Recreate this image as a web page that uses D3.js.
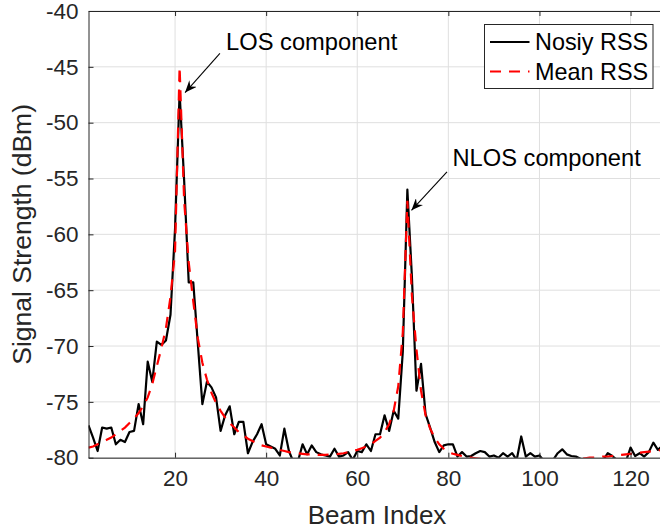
<!DOCTYPE html>
<html>
<head>
<meta charset="utf-8">
<script src="https://cdn.jsdelivr.net/npm/d3@7"></script>
<style>
  html, body { margin: 0; padding: 0; background: #fff; }
  svg { display: block; font-family: "Liberation Sans", Arial, Helvetica, sans-serif; }
</style>
</head>
<body>
<div id="chart"></div>
<script>
// Beam index 1..128
const beamIndex = d3.range(1, 129);

// Noisy received signal strength per beam (dBm)
const noisyRss = [
  -77.1, -78.2, -79.4, -77.3, -77.4, -77.3, -78.8, -78.4, -78.6, -77.7,
  -77.6, -75.2, -77.0, -71.4, -73.2, -69.6, -69.9, -69.5, -67.2, -59.5,
  -47.3, -55.2, -64.3, -64.3, -69.8, -75.2, -73.2, -73.7, -74.6, -77.6,
  -76.2, -75.4, -77.9, -76.8, -76.8, -79.6, -78.6, -77.9, -77.0, -78.8,
  -79.0, -79.2, -79.8, -77.4, -79.4, -80.4, -80.3, -78.8, -79.7, -78.9,
  -79.5, -79.7, -79.8, -79.9, -79.2, -79.9, -79.8, -79.5, -80.2, -79.4,
  -79.5, -78.8, -79.4, -77.9, -77.9, -76.2, -77.6, -75.8, -76.5, -70.5,
  -56.0, -63.8, -74.0, -71.6, -76.1, -77.3, -78.6, -79.5, -78.9, -78.8,
  -78.8, -79.9, -79.5, -79.9, -79.85, -79.6, -79.4, -79.5, -79.9, -79.8,
  -80.0, -79.6, -79.9, -79.6, -80.2, -78.1, -79.9, -79.6, -79.9, -79.8,
  -80.3, -80.5, -80.2, -79.6, -79.25, -79.7, -79.85, -79.9, -80.1, -80.2,
  -80.5, -80.3, -80.5, -80.2, -79.6, -79.85, -80.2, -80.5, -80.3, -79.1,
  -79.85, -79.6, -79.9, -79.5, -78.65, -79.3, -78.95, -79.2
];

// Mean received signal strength per beam (dBm)
const meanRss = [
  -79.1, -79.0, -78.8, -78.6, -78.4, -78.2, -77.9, -77.6, -77.3, -76.9,
  -76.5, -76.0, -75.4, -74.6, -73.4, -71.8, -70.2, -68.4, -65.6, -61.5,
  -45.0, -57.0, -62.5, -66.0, -69.3, -71.5, -73.0, -74.2, -75.1, -75.8,
  -76.4, -76.9, -77.3, -77.7, -78.0, -78.3, -78.5, -78.7, -78.9, -79.0,
  -79.1, -79.2, -79.3, -79.4, -79.5, -79.55, -79.6, -79.65, -79.7, -79.7,
  -79.75, -79.75, -79.75, -79.7, -79.7, -79.65, -79.6, -79.5, -79.4, -79.3,
  -79.15, -79.0, -78.8, -78.5, -78.2, -77.7, -77.0, -75.8, -73.6, -68.8,
  -57.0, -65.5, -70.3, -74.0, -76.2, -77.4, -78.2, -78.8, -79.2, -79.5,
  -79.65, -79.75, -79.85, -79.9, -80.0, -80.05, -80.1, -80.15, -80.2, -80.25,
  -80.3, -80.3, -80.3, -80.3, -80.3, -80.3, -80.3, -80.3, -80.3, -80.3,
  -80.3, -80.3, -80.3, -80.3, -80.3, -80.25, -80.2, -80.15, -80.1, -80.05,
  -80.0, -80.0, -79.95, -79.9, -79.9, -79.85, -79.8, -79.75, -79.7, -79.65,
  -79.6, -79.55, -79.5, -79.45, -79.4, -79.35, -79.3, -79.25
];

const xTicks = [20, 40, 60, 80, 100, 120];
const yTicks = [-80, -75, -70, -65, -60, -55, -50, -45, -40];
const legendLabels = ["Nosiy RSS", "Mean RSS"];

// Annotations: [text position, arrow tail, arrow tip] in data units
const annotations = [
  { label: "LOS component",  text: [31.2, -43.5], from: [29.85, -43.8], to: [22.2, -47.3] },
  { label: "NLOS component", text: [80.9, -53.9], from: [79.7, -54.4], to: [71.9, -57.85] }
];

const width = 660, height = 531;
const margin = { top: 11, right: -7, bottom: 73.3, left: 88.5 };
const innerW = width - margin.left - margin.right;
const innerH = height - margin.top - margin.bottom;

const axisColor = "#262626";
const gridColor = "#dfdfdf";

const svg = d3.select("#chart")
    .append("svg")
    .attr("width", width)
    .attr("height", height);

const defs = svg.append("defs");
defs.append("clipPath")
    .attr("id", "plot-clip")
    .append("rect")
    .attr("width", innerW)
    .attr("height", innerH);

const g = svg.append("g")
    .attr("transform", `translate(${margin.left},${margin.top})`);

const xScale = d3.scaleLinear().domain([1, 128]).range([0, innerW]);
const yScale = d3.scaleLinear().domain([-80, -40]).range([innerH, 0]);

// Grid
g.append("g")
    .selectAll("line")
    .data(xTicks)
    .join("line")
    .attr("x1", d => xScale(d)).attr("x2", d => xScale(d))
    .attr("y1", 0).attr("y2", innerH)
    .attr("stroke", gridColor).attr("stroke-width", 1);

g.append("g")
    .selectAll("line")
    .data(yTicks)
    .join("line")
    .attr("x1", 0).attr("x2", innerW)
    .attr("y1", d => yScale(d)).attr("y2", d => yScale(d))
    .attr("stroke", gridColor).attr("stroke-width", 1);

// Lines
const lineGen = d3.line()
    .x((d, i) => xScale(beamIndex[i]))
    .y(d => yScale(d));

const plot = g.append("g").attr("clip-path", "url(#plot-clip)");

plot.append("path")
    .datum(noisyRss)
    .attr("fill", "none")
    .attr("stroke", "#000")
    .attr("stroke-width", 2.2)
    .attr("stroke-linejoin", "round")
    .attr("d", lineGen);

plot.append("path")
    .datum(meanRss)
    .attr("fill", "none")
    .attr("stroke", "#ff0000")
    .attr("stroke-width", 2.2)
    .attr("stroke-dasharray", "11,8")
    .attr("d", lineGen);

// Axes (MATLAB style: ticks inward, box)
const plainFormat = d => String(d);

const xAxis = g.append("g")
    .attr("transform", `translate(0,${innerH})`)
    .call(d3.axisBottom(xScale).tickValues(xTicks).tickSizeInner(-5).tickSizeOuter(0)
        .tickPadding(12).tickFormat(plainFormat));

const xAxisTop = g.append("g")
    .call(d3.axisTop(xScale).tickValues(xTicks).tickSizeInner(-5).tickSizeOuter(0).tickFormat(""));

const yAxis = g.append("g")
    .call(d3.axisLeft(yScale).tickValues(yTicks).tickSizeInner(-5).tickSizeOuter(0)
        .tickPadding(10).tickFormat(plainFormat));

[xAxis, xAxisTop, yAxis].forEach(a => {
    a.select(".domain").attr("stroke", axisColor).attr("stroke-width", 1);
    a.selectAll(".tick line").attr("stroke", axisColor);
    a.selectAll(".tick text")
        .attr("fill", axisColor)
        .style("font-size", "22.5px")
        .style("font-family", "'Liberation Sans', Arial, sans-serif");
});

// Axis labels
svg.append("text")
    .attr("x", 377)
    .attr("y", 524)
    .attr("text-anchor", "middle")
    .attr("fill", axisColor)
    .style("font-size", "26px")
    .text("Beam Index");

svg.append("text")
    .attr("transform", `translate(31,${margin.top + innerH / 2}) rotate(-90)`)
    .attr("text-anchor", "middle")
    .attr("fill", axisColor)
    .style("font-size", "26.5px")
    .text("Signal Strength (dBm)");

// Annotations
defs.append("marker")
    .attr("id", "arrowhead")
    .attr("viewBox", "0 0 12 10")
    .attr("refX", 12).attr("refY", 5)
    .attr("markerWidth", 12).attr("markerHeight", 10)
    .attr("markerUnits", "userSpaceOnUse")
    .attr("orient", "auto")
    .append("path")
    .attr("d", "M0,0 L12,5 L0,10 L4,5 Z")
    .attr("fill", "#000");

annotations.forEach(a => {
    g.append("line")
        .attr("x1", xScale(a.from[0])).attr("y1", yScale(a.from[1]))
        .attr("x2", xScale(a.to[0])).attr("y2", yScale(a.to[1]))
        .attr("stroke", "#000").attr("stroke-width", 1.1)
        .attr("marker-end", "url(#arrowhead)");
    g.append("text")
        .attr("x", xScale(a.text[0]))
        .attr("y", yScale(a.text[1]))
        .attr("fill", "#000")
        .style("font-size", "23.7px")
        .text(a.label);
});

// Legend
const legend = svg.append("g").attr("transform", "translate(484.5,24.5)");
legend.append("rect")
    .attr("width", 168.5).attr("height", 64)
    .attr("fill", "#fff")
    .attr("stroke", axisColor).attr("stroke-width", 1);

const legendStyles = [
    { stroke: "#000", dash: null },
    { stroke: "#ff0000", dash: "11,8" }
];

legendLabels.forEach((label, i) => {
    const rowY = 17.5 + i * 29.5;
    legend.append("line")
        .attr("x1", 5.5).attr("x2", 45)
        .attr("y1", rowY).attr("y2", rowY)
        .attr("stroke", legendStyles[i].stroke)
        .attr("stroke-width", 2.2)
        .attr("stroke-dasharray", legendStyles[i].dash);
    legend.append("text")
        .attr("x", 50.5)
        .attr("y", rowY)
        .attr("dy", "0.36em")
        .attr("fill", "#000")
        .style("font-size", "23.4px")
        .text(label);
});
</script>
</body>
</html>
